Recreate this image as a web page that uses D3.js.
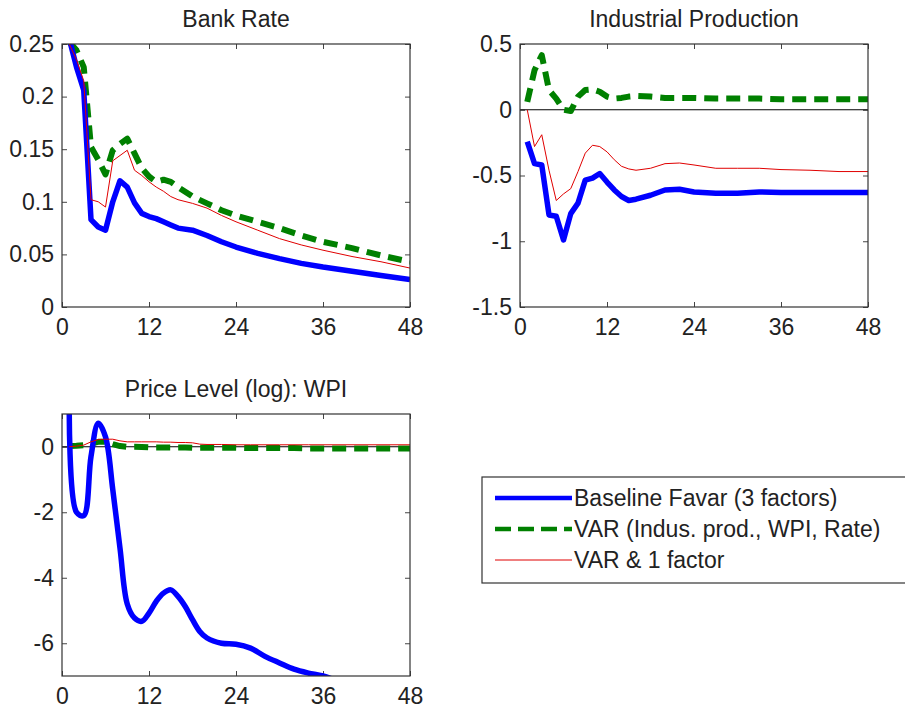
<!DOCTYPE html>
<html>
<head>
<meta charset="utf-8">
<script src="https://cdn.jsdelivr.net/npm/d3@7"></script>
<style>
  body { margin: 0; background: #fff; }
  svg { display: block; font-family: "Liberation Sans", Arial, sans-serif; }
</style>
</head>
<body>
<div id="chart"></div>
<script>
// Horizon (months) and tick labels
const xTicks = [0, 12, 24, 36, 48];
const bankRateTicks = [0, 0.05, 0.1, 0.15, 0.2, 0.25];
const indProdTicks = [-1.5, -1, -0.5, 0, 0.5];
const wpiTicks = [-6, -4, -2, 0];

const seriesNames = ["Baseline Favar (3 factors)", "VAR (Indus. prod., WPI, Rate)", "VAR & 1 factor"];

// Bank Rate
const monthsA = [1, 2, 3, 4, 5, 6, 7, 8, 9, 10, 11, 12, 13, 14, 15, 16, 18, 20, 22, 24, 27, 30, 33, 36, 40, 44, 48];
const bankFavar = [0.255, 0.228, 0.206, 0.083, 0.076, 0.073, 0.100, 0.120, 0.114, 0.099, 0.089, 0.086, 0.084, 0.081, 0.078, 0.075, 0.073, 0.068, 0.062, 0.057, 0.051, 0.046, 0.0415, 0.038, 0.034, 0.030, 0.026];
const bankVar = [0.252, 0.244, 0.228, 0.152, 0.140, 0.126, 0.149, 0.155, 0.160, 0.146, 0.132, 0.124, 0.119, 0.121, 0.119, 0.114, 0.105, 0.0985, 0.092, 0.087, 0.081, 0.075, 0.068, 0.062, 0.056, 0.049, 0.043];
const bankVar1f = [0.25, 0.235, 0.215, 0.102, 0.100, 0.095, 0.139, 0.144, 0.149, 0.130, 0.125, 0.119, 0.114, 0.110, 0.105, 0.102, 0.0985, 0.094, 0.087, 0.081, 0.073, 0.065, 0.059, 0.054, 0.048, 0.043, 0.037];

// Industrial Production
const monthsB = [1, 2, 3, 4, 5, 6, 7, 8, 9, 10, 11, 12, 13, 14, 15, 16, 18, 20, 22, 24, 27, 30, 33, 36, 40, 44, 48];
const ipFavar = [-0.243, -0.41, -0.42, -0.80, -0.81, -0.99, -0.79, -0.71, -0.535, -0.52, -0.485, -0.55, -0.61, -0.66, -0.69, -0.68, -0.65, -0.61, -0.605, -0.625, -0.635, -0.635, -0.625, -0.63, -0.63, -0.63, -0.63];
const ipVar = [0.06, 0.30, 0.415, 0.15, 0.085, 0.0, -0.01, 0.10, 0.15, 0.155, 0.137, 0.10, 0.085, 0.09, 0.10, 0.105, 0.10, 0.09, 0.09, 0.09, 0.085, 0.085, 0.085, 0.08, 0.08, 0.08, 0.08];
const ipVar1f = [0.0, -0.28, -0.19, -0.46, -0.69, -0.64, -0.60, -0.47, -0.33, -0.27, -0.28, -0.32, -0.38, -0.43, -0.45, -0.46, -0.445, -0.41, -0.405, -0.42, -0.445, -0.445, -0.445, -0.455, -0.46, -0.47, -0.47];

// Price Level (log): WPI
const monthsC = [1, 2, 3, 4, 5, 6, 7, 8, 9, 10, 11, 12, 13, 14, 15, 16, 17, 18, 19, 20, 22, 24, 26, 28, 30, 32, 34, 36, 40, 44, 48];
const wpiFavar = [1.3, -2.0, -2.1, -0.3, 0.72, 0.3, -1.3, -3.1, -4.8, -5.23, -5.33, -5.08, -4.72, -4.47, -4.37, -4.57, -4.88, -5.28, -5.64, -5.84, -6.0, -6.03, -6.15, -6.4, -6.6, -6.79, -6.91, -7.0, -7.3, -7.5, -7.7];
const wpiVar = [0.02, 0.03, 0.05, 0.1, 0.15, 0.15, 0.08, 0.02, 0.0, 0.0, -0.01, -0.02, -0.02, -0.02, -0.02, -0.02, -0.02, -0.03, -0.03, -0.03, -0.03, -0.03, -0.04, -0.04, -0.04, -0.04, -0.05, -0.05, -0.05, -0.05, -0.05];
const wpiVar1f = [0.0, 0.02, 0.05, 0.15, 0.22, 0.23, 0.23, 0.18, 0.15, 0.15, 0.15, 0.15, 0.15, 0.14, 0.14, 0.13, 0.13, 0.12, 0.08, 0.07, 0.07, 0.06, 0.06, 0.06, 0.06, 0.06, 0.06, 0.06, 0.06, 0.06, 0.06];

const colors = ["#0000ff", "#008000", "#e00000"];
const widths = [5.5, 6, 1];
const dashes = [null, "14,8", null];
const fontSize = "23px";

const svg = d3.select("#chart").append("svg")
  .attr("width", 905)
  .attr("height", 711);

let clipId = 0;

function drawPanel(opts) {
  const { left, top, w, h, title, months, series, yDomain, yTicks, zeroLine, curve } = opts;
  const g = svg.append("g").attr("transform", `translate(${left},${top})`);

  const x = d3.scaleLinear().domain([0, 48]).range([0, w]);
  const y = d3.scaleLinear().domain(yDomain).range([h, 0]);

  const id = "clip" + (clipId++);
  g.append("clipPath").attr("id", id)
    .append("rect").attr("width", w).attr("height", h);

  // axes with inside ticks, on all four sides
  const fmt = d => String(+d.toFixed(2));
  g.append("g")
    .attr("transform", `translate(0,${h})`)
    .call(d3.axisBottom(x).tickValues(xTicks).tickSizeInner(-5).tickSizeOuter(0).tickPadding(12).tickFormat(fmt));
  g.append("g")
    .call(d3.axisTop(x).tickValues(xTicks).tickSizeInner(-5).tickSizeOuter(0).tickFormat(""));
  g.append("g")
    .call(d3.axisLeft(y).tickValues(yTicks).tickSizeInner(-5).tickSizeOuter(0).tickPadding(8).tickFormat(fmt));
  g.append("g")
    .attr("transform", `translate(${w},0)`)
    .call(d3.axisRight(y).tickValues(yTicks).tickSizeInner(-5).tickSizeOuter(0).tickFormat(""));

  g.selectAll(".domain").remove();
  g.selectAll(".tick line").attr("stroke", "#444");
  g.selectAll(".tick text")
    .attr("fill", "#222")
    .style("font-size", fontSize);

  if (zeroLine) {
    g.append("line")
      .attr("x1", 0).attr("x2", w)
      .attr("y1", y(0)).attr("y2", y(0))
      .attr("stroke", "#000")
      .attr("stroke-width", 1.2);
  }

  // draw order: green, blue, red on top
  [1, 0, 2].forEach(k => {
    const line = d3.line()
      .x((d, i) => x(months[i]))
      .y(d => y(d))
      .curve(curve && k === 0 ? d3.curveCatmullRom : d3.curveLinear);
    g.append("path")
      .datum(series[k])
      .attr("clip-path", `url(#${id})`)
      .attr("fill", "none")
      .attr("stroke", colors[k])
      .attr("stroke-width", widths[k])
      .attr("stroke-dasharray", dashes[k])
      .attr("stroke-linejoin", "round")
      .attr("d", line);
  });

  g.append("rect")
    .attr("width", w).attr("height", h)
    .attr("fill", "none")
    .attr("stroke", "#333")
    .attr("stroke-width", 1.2);

  g.append("text")
    .attr("x", w / 2)
    .attr("y", -17)
    .attr("text-anchor", "middle")
    .attr("fill", "#222")
    .style("font-size", fontSize)
    .text(title);
}

drawPanel({
  left: 62, top: 44, w: 348, h: 263,
  title: "Bank Rate",
  months: monthsA,
  series: [bankFavar, bankVar, bankVar1f],
  yDomain: [0, 0.25], yTicks: bankRateTicks, zeroLine: false
});

drawPanel({
  left: 520, top: 44, w: 348, h: 263,
  title: "Industrial Production",
  months: monthsB,
  series: [ipFavar, ipVar, ipVar1f],
  yDomain: [-1.5, 0.5], yTicks: indProdTicks, zeroLine: true
});

drawPanel({
  left: 62, top: 414, w: 348, h: 262,
  title: "Price Level (log): WPI",
  months: monthsC,
  series: [wpiFavar, wpiVar, wpiVar1f],
  yDomain: [-7, 1], yTicks: wpiTicks, zeroLine: true, curve: true
});

// Legend
const legend = svg.append("g").attr("transform", "translate(482,477)");
legend.append("rect")
  .attr("width", 440).attr("height", 106)
  .attr("fill", "#fff")
  .attr("stroke", "#333")
  .attr("stroke-width", 1.2);

const rowY = [21, 52, 83];
seriesNames.forEach((name, k) => {
  legend.append("line")
    .attr("x1", 13).attr("x2", 90)
    .attr("y1", rowY[k]).attr("y2", rowY[k])
    .attr("stroke", colors[k])
    .attr("stroke-width", k === 2 ? 1 : 4.5)
    .attr("stroke-dasharray", k === 1 ? "16,7" : null);
  legend.append("text")
    .attr("x", 92)
    .attr("y", rowY[k])
    .attr("dy", "0.35em")
    .attr("fill", "#222")
    .style("font-size", fontSize)
    .text(name);
});
</script>
</body>
</html>
